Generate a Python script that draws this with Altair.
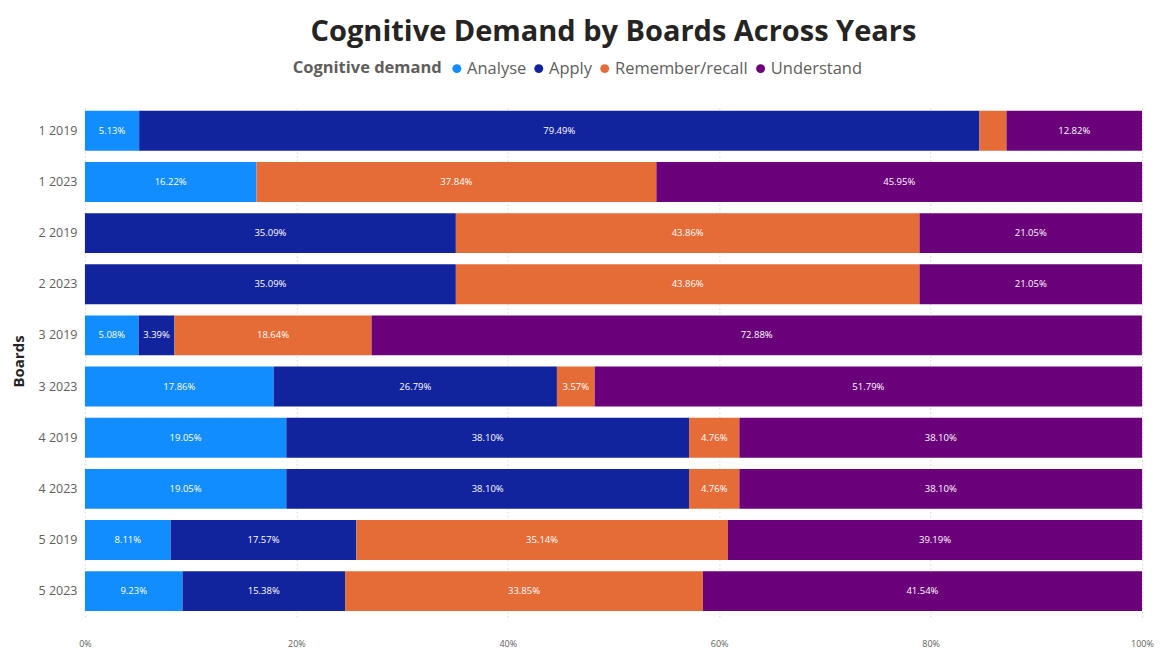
import altair as alt
import pandas as pd

boards = ["1 2019", "1 2023", "2 2019", "2 2023", "3 2019", "3 2023",
          "4 2019", "4 2023", "5 2019", "5 2023"]
categories = ["Analyse", "Apply", "Remember/recall", "Understand"]
analyse = [5.13, 16.22, 0, 0, 5.08, 17.86, 19.05, 19.05, 8.11, 9.23]
apply_ = [79.49, 0, 35.09, 35.09, 3.39, 26.79, 38.10, 38.10, 17.57, 15.38]
remember = [2.56, 37.84, 43.86, 43.86, 18.64, 3.57, 4.76, 4.76, 35.14, 33.85]
understand = [12.82, 45.95, 21.05, 21.05, 72.88, 51.79, 38.10, 38.10, 39.19, 41.54]
colors = ["#118DFF", "#12239E", "#E66C37", "#6B007B"]

rows = []
for i, b in enumerate(boards):
    for k, (cat, vals) in enumerate(zip(categories, [analyse, apply_, remember, understand])):
        v = vals[i]
        if v > 0:
            rows.append({"Board": b, "Cat": cat, "Order": k, "Value": v / 100.0,
                         "Label": f"{v:.2f}%" if v >= 3 else ""})
df = pd.DataFrame(rows)

FONT = "Open Sans"

base = alt.Chart(df).transform_stack(
    stack="Value", groupby=["Board"], as_=["x0", "x1"],
    sort=[alt.SortField("Order", order="ascending")]
).transform_calculate(mid="(datum.x0 + datum.x1) / 2")

yenc = alt.Y("Board:N", sort=boards,
             scale=alt.Scale(paddingInner=0.22, paddingOuter=0.11),
             axis=alt.Axis(title="Boards", titleFontSize=15, titleFontWeight="bold",
                           titleColor="#252423", titleFont=FONT,
                           labelFont=FONT, labelFontSize=12.5, labelColor="#605E5C",
                           labelPadding=8, ticks=False, domain=False,
                           minExtent=46, maxExtent=46, titlePadding=12))

bars = base.mark_bar().encode(
    x=alt.X("x0:Q", scale=alt.Scale(domain=[0, 1]),
            axis=alt.Axis(format=".0%", values=[0, 0.2, 0.4, 0.6, 0.8, 1.0], title=None,
                          labelFont=FONT, labelFontSize=9, labelColor="#605E5C",
                          labelFlush=False,
                          grid=True, gridDash=[1, 3], gridColor="#C8C6C4",
                          ticks=False, domain=False, labelPadding=23)),
    x2="x1:Q",
    y=yenc,
    color=alt.Color("Cat:N", scale=alt.Scale(domain=categories, range=colors),
                    legend=alt.Legend(title="Cognitive demand", orient="none",
                                      direction="horizontal", legendX=208, legendY=-45,
                                      titleOrient="left", titleFontSize=16.5,
                                      titleFontWeight="bold", titleColor="#605E5C",
                                      titleFont=FONT, labelFont=FONT, labelFontSize=16.5,
                                      labelColor="#605E5C", symbolType="circle",
                                      symbolSize=80, columnPadding=4, labelOffset=2,
                                      titlePadding=6)),
    order=alt.Order("Order:Q"),
)

texts = base.mark_text(color="white", fontSize=9.5, font=FONT).encode(
    x=alt.X("mid:Q"),
    y=alt.Y("Board:N", sort=boards),
    text="Label:N",
)

chart = (bars + texts).properties(
    width=1058, height=512,
    title=alt.Title("Cognitive Demand by Boards Across Years", fontSize=29,
                    fontWeight="bold", color="#252423", font=FONT, offset=13,
                    anchor="middle"),
    padding={"left": 4, "top": 10, "right": 0, "bottom": 0},
).configure_view(stroke=None)

chart.save("out.html", embed_options={"renderer": "svg", "actions": False})
